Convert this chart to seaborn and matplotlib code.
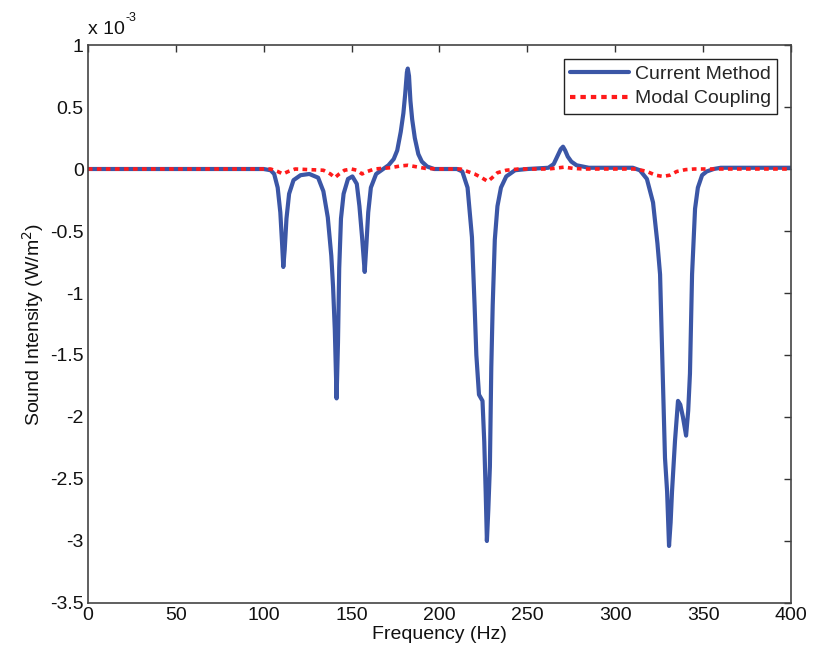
import matplotlib
matplotlib.use("Agg")
import matplotlib.pyplot as plt
import seaborn as sns
import pandas as pd
from matplotlib import font_manager

# ---- data (values in units of 1e-3 W/m^2) ----
cm_freq = [0, 100, 104, 106, 108, 109.5, 110.5, 111.2, 112, 113, 114.5, 117, 121, 126,
           131, 134, 136.5, 138.5, 139.5, 140.5, 141.5, 142.3, 143, 144, 145.5, 148,
           150.5, 153, 154.5, 156, 157.5, 158.5, 159.5, 161, 164, 168, 171, 174, 176,
           178, 179.5, 180.5, 181.5, 182, 182.7, 183.5, 184.5, 186, 188, 190, 193, 197,
           210, 213, 216, 218.5, 220, 221, 222.5, 224.5, 225.5, 226.3, 227, 227.8,
           228.7, 229.5, 230.3, 231.5, 233, 235, 238, 243, 250, 262, 265, 267, 269,
           270.3, 271.5, 273, 275, 278, 285, 310, 314, 318, 321.5, 324, 325.5, 327,
           328.3, 329.5, 330.6, 331.5, 332.3, 334, 335.7, 337, 338.5, 340.3, 341.5,
           342.5, 343.7, 345.4, 347, 349.4, 352, 356, 360, 400]
cm_val = [0, 0, -0.01, -0.04, -0.15, -0.35, -0.6, -0.79, -0.65, -0.4, -0.2, -0.09, -0.05, -0.04,
          -0.07, -0.18, -0.39, -0.7, -0.95, -1.3, -1.85, -1.4, -0.8, -0.4, -0.2, -0.08,
          -0.06, -0.12, -0.3, -0.55, -0.83, -0.6, -0.35, -0.15, -0.04, 0.0, 0.03, 0.08, 0.15,
          0.3, 0.45, 0.6, 0.78, 0.81, 0.75, 0.55, 0.4, 0.25, 0.12, 0.06, 0.02, 0.0,
          0.0, -0.02, -0.15, -0.55, -1.1, -1.5, -1.82, -1.87, -2.2, -2.6, -3.0, -2.75,
          -2.4, -1.6, -1.1, -0.57, -0.3, -0.15, -0.06, -0.01, 0, 0.01, 0.04, 0.1, 0.16,
          0.18, 0.15, 0.1, 0.06, 0.03, 0.01, 0.01, -0.01, -0.08, -0.27, -0.6, -0.85, -1.65,
          -2.33, -2.6, -3.04, -2.85, -2.6, -2.19, -1.87, -1.9, -2.0, -2.15, -1.95,
          -1.65, -0.85, -0.32, -0.15, -0.05, -0.02, 0.0, 0.01, 0.01]

mc_freq = [0, 104, 108, 111, 114, 118, 134, 138, 140.5, 143, 146, 150, 153, 156, 159, 163,
           172, 178, 182, 186, 192, 200, 212, 216, 220, 224, 227.5, 230, 233, 238, 245,
           262, 268, 271, 276, 282, 312, 318, 323, 327, 331, 335, 340, 345, 400]
mc_val = [0, 0, -0.02, -0.04, -0.02, 0, -0.01, -0.04, -0.07, -0.04, -0.01, 0, -0.01, -0.04,
          -0.02, 0, 0.01, 0.025, 0.03, 0.02, 0.005, 0, 0, -0.02, -0.04, -0.07, -0.1, -0.07,
          -0.03, -0.01, 0, 0, 0.01, 0.015, 0.005, 0, 0, -0.02, -0.05, -0.06, -0.05, -0.02,
          -0.005, 0, 0]

series_names = ["Current Method", "Modal Coupling"]
x_ticks = [0, 50, 100, 150, 200, 250, 300, 350, 400]
y_ticks = [-3.5, -3, -2.5, -2, -1.5, -1, -0.5, 0, 0.5, 1]

df = pd.concat([
    pd.DataFrame({"Frequency": cm_freq, "Intensity": cm_val, "Series": series_names[0]}),
    pd.DataFrame({"Frequency": mc_freq, "Intensity": mc_val, "Series": series_names[1]}),
], ignore_index=True)

sns.set_style("white")
names = {f.name for f in font_manager.fontManager.ttflist}
fam = ["Liberation Sans Narrow", "Liberation Sans", "DejaVu Sans"]
fam = [f for f in fam if f in names] or ["DejaVu Sans"]
plt.rcParams["font.family"] = fam

FS = 14
fig = plt.figure(figsize=(8.13, 6.58), dpi=100)
ax = fig.add_axes([0.108, 0.0836, 0.865, 0.848])

palette = {"Current Method": "#3b56a6", "Modal Coupling": "#ff1a1a"}
sns.lineplot(data=df, x="Frequency", y="Intensity", hue="Series", style="Series",
             palette=palette, dashes={"Current Method": "", "Modal Coupling": (1.3, 1.2)},
             estimator=None, sort=True, ax=ax, linewidth=3)
ax.lines[1].set_linewidth(2.6)

ax.set_xlim(0, 400)
ax.set_ylim(-3.5, 1)
ax.set_xticks(x_ticks)
ax.set_yticks(y_ticks)
ax.set_xticklabels([f"{t:g}" for t in x_ticks])
ax.set_yticklabels([f"{t:g}" for t in y_ticks])
ax.tick_params(direction="in", length=5, width=1, top=True, right=True,
               labelsize=FS, colors="#333333", pad=3)
ax.tick_params(axis="both", labelcolor="#111111")
for s in ax.spines.values():
    s.set_color("#444444")
    s.set_linewidth(1.2)

ax.set_xlabel("Frequency (Hz)", fontsize=FS, color="#111111", labelpad=1)
ax.set_ylabel("Sound Intensity (W/m$^2$)", fontsize=FS, color="#111111", labelpad=3)
ax.text(0.0, 1.012, "x 10", transform=ax.transAxes, fontsize=FS,
        color="#111111", ha="left", va="bottom")
ax.text(0.054, 1.038, "-3", transform=ax.transAxes, fontsize=9,
        color="#111111", ha="left", va="bottom")

handles, labels = ax.get_legend_handles_labels()
leg = ax.legend(handles=handles, labels=labels, loc="upper right", fontsize=FS,
                frameon=True, fancybox=False, edgecolor="#222222", framealpha=1,
                borderaxespad=0.7, handlelength=3.0, handletextpad=0.3,
                borderpad=0.35, labelspacing=0.35)
leg.get_frame().set_linewidth(1.0)

fig.savefig("out.png", dpi=100)
